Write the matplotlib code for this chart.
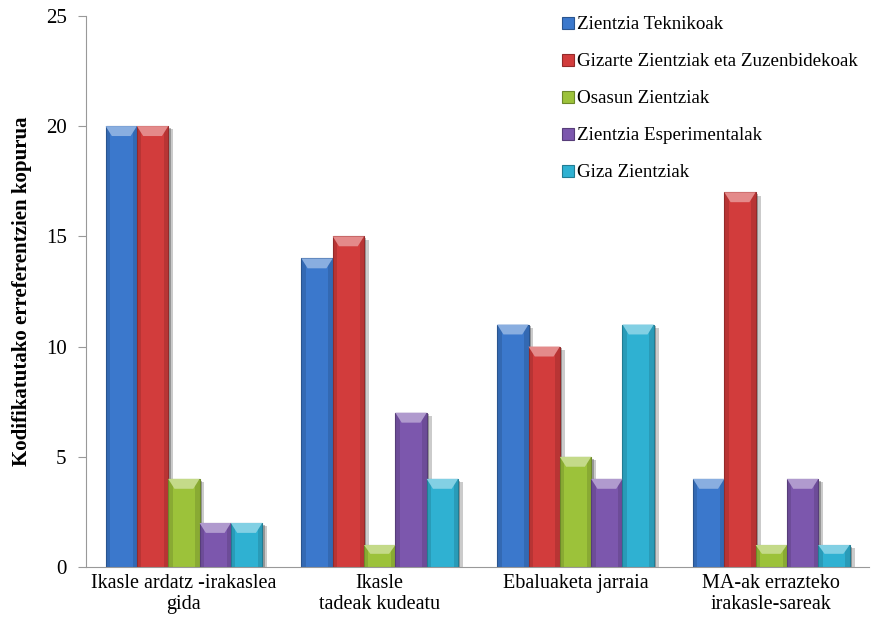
import numpy as np
import matplotlib.pyplot as plt
import matplotlib.colors as mcolors

plt.rcParams['font.family'] = ['Liberation Serif', 'DejaVu Serif']

# datos
kategoriak = ['Ikasle ardatz -irakaslea\ngida', 'Ikasle\ntadeak kudeatu',
              'Ebaluaketa jarraia', 'MA-ak errazteko\nirakasle-sareak']
serieak = ['Zientzia Teknikoak', 'Gizarte Zientziak eta Zuzenbidekoak',
           'Osasun Zientziak', 'Zientzia Esperimentalak', 'Giza Zientziak']
teknikoak = [20, 14, 11, 4]
gizarte = [20, 15, 10, 17]
osasun = [4, 1, 5, 1]
esperimentalak = [2, 7, 4, 4]
giza = [2, 4, 11, 1]
balioak = [teknikoak, gizarte, osasun, esperimentalak, giza]

koloreak = ['#3b78cc', '#d23c3c', '#9cc23a', '#7c57ad', '#2fb1d2']

fig = plt.figure(figsize=(8.82, 6.35), dpi=100)
ax = fig.add_axes([0.0975, 0.107, 0.888, 0.868])

x = np.arange(len(kategoriak))
w = 0.16
for i, (vals, c) in enumerate(zip(balioak, koloreak)):
    pos = x - 0.4 + w / 2 + i * w
    rgb = np.array(mcolors.to_rgb(c))
    ilun = rgb * 0.7
    argi = 1 - (1 - rgb) * 0.6
    # itzala
    ax.bar(pos + 0.025, vals, w, bottom=-0.15, color='#555555', alpha=0.3,
           zorder=1, linewidth=0)
    ax.bar(pos + 0.012, vals, w, bottom=-0.08, color='#333333', alpha=0.35,
           zorder=1, linewidth=0)
    # barra nagusia
    ax.bar(pos, vals, w, color=c, edgecolor=ilun, linewidth=0.8, zorder=2,
           label=serieak[i])
    # ertz ilunak
    ax.bar(pos - w * 0.43, vals, w * 0.14, color=ilun, alpha=0.4,
           linewidth=0, zorder=3)
    ax.bar(pos + w * 0.43, vals, w * 0.14, color=ilun, alpha=0.4,
           linewidth=0, zorder=3)
    # goiko distira
    for xp, v in zip(pos, vals):
        h = min(0.45, v * 0.4)
        ax.fill([xp - w / 2, xp + w / 2, xp + w * 0.3, xp - w * 0.3],
                [v, v, v - h, v - h], color=argi, zorder=4, linewidth=0)

ax.set_xlim(-0.5, 3.5)
ax.set_ylim(0, 25)
ax.set_yticks(range(0, 26, 5))
ax.set_xticks(x)
ax.set_xticklabels(kategoriak, fontsize=14.5, linespacing=1.15)
ax.tick_params(axis='y', labelsize=15, length=6, color='#999999', pad=8)
ax.tick_params(axis='x', length=0, pad=5)
for s in ['top', 'right']:
    ax.spines[s].set_visible(False)
ax.spines['left'].set_color('#999999')
ax.spines['bottom'].set_color('#999999')
ax.set_ylabel('Kodifikatutako erreferentzien kopurua', fontsize=15,
              fontweight='bold', labelpad=10)

leg = ax.legend(loc='upper left', bbox_to_anchor=(0.586, 1.03), frameon=False,
                fontsize=13.7, handlelength=0.6, handleheight=0.6,
                handletextpad=0.2, labelspacing=1.05)

fig.savefig('out.png', dpi=100)
